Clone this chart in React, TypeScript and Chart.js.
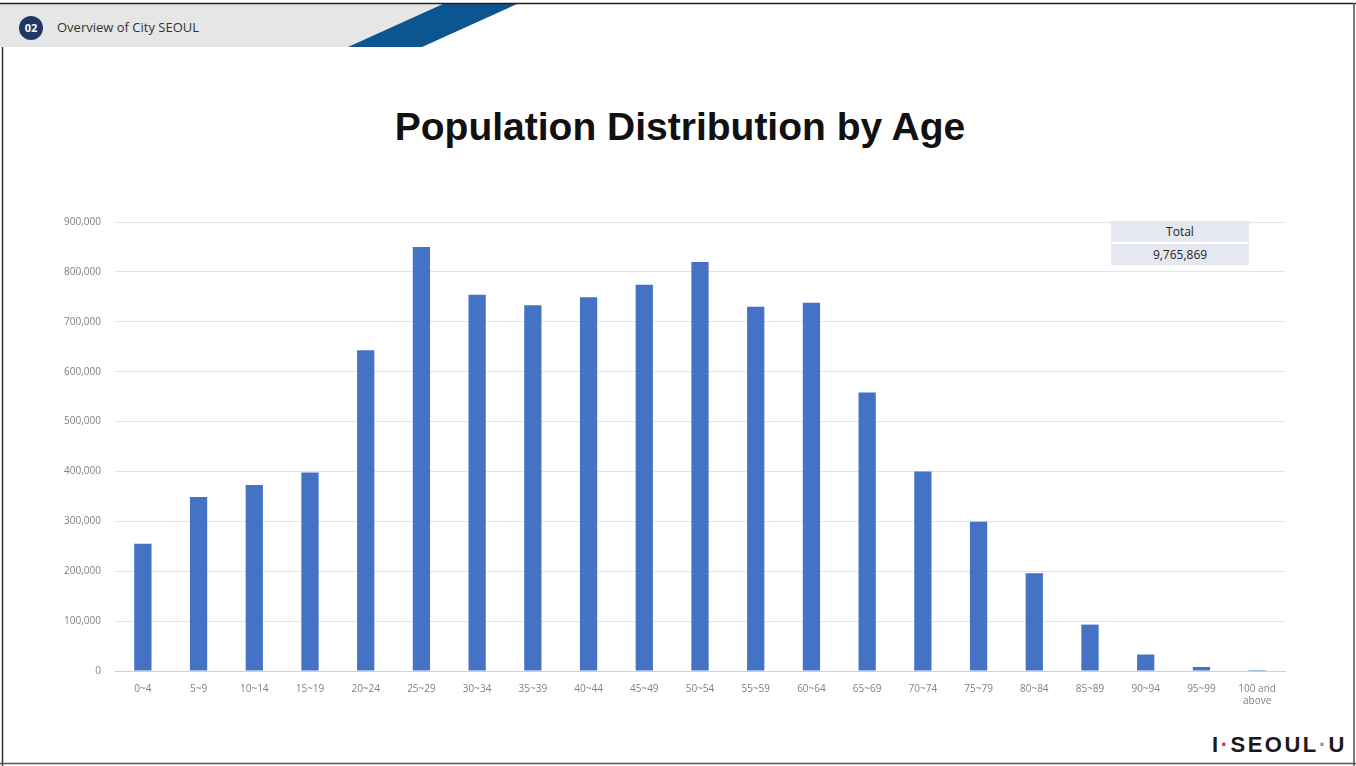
import React, { useEffect, useRef } from "react";
import { Chart, registerables } from "chart.js";

Chart.register(...registerables);

const ageGroups: (string | string[])[] = [
  "0~4", "5~9", "10~14", "15~19", "20~24", "25~29", "30~34", "35~39", "40~44",
  "45~49", "50~54", "55~59", "60~64", "65~69", "70~74", "75~79", "80~84",
  "85~89", "90~94", "95~99", ["100 and", "above"],
];

const population: number[] = [
  255000, 349000, 373000, 398000, 643000, 850000, 754000, 733000, 749000,
  774000, 820000, 730000, 738000, 558000, 400000, 299000, 196000,
  93000, 33000, 8000, 2000,
];

const yMax = 900000;
const yStep = 100000;
const totalLabel = "Total";
const totalValue = "9,765,869";

const tickFont = { family: "'Open Sans', 'DejaVu Sans', sans-serif", size: 10 };

export default function App() {
  const canvasRef = useRef<HTMLCanvasElement | null>(null);

  useEffect(() => {
    if (!canvasRef.current) return;
    const chart = new Chart(canvasRef.current, {
      type: "bar",
      data: {
        labels: ageGroups,
        datasets: [
          {
            data: population,
            backgroundColor: "#4472c4",
            barPercentage: 0.31,
            categoryPercentage: 1,
          },
        ],
      },
      options: {
        animation: false,
        responsive: false,
        maintainAspectRatio: false,
        layout: { padding: { left: 0, right: 15, top: 22, bottom: 0 } },
        plugins: { legend: { display: false }, tooltip: { enabled: false } },
        scales: {
          x: {
            grid: { display: false, drawTicks: false },
            border: { color: "#d0d0d0", width: 1 },
            ticks: {
              color: "#808080",
              font: tickFont,
              padding: 12,
              maxRotation: 0,
              autoSkip: false,
            },
            afterFit: (scale: any) => {
              scale.height = 49;
            },
          },
          y: {
            min: 0,
            max: yMax,
            grid: { color: "#e3e3e3", drawTicks: false },
            border: { display: false },
            ticks: {
              stepSize: yStep,
              color: "#808080",
              font: tickFont,
              padding: 14,
              callback: (v: any) => Number(v).toLocaleString("en-US"),
            },
            afterFit: (scale: any) => {
              scale.width = 115;
            },
          },
        },
      },
    });
    return () => chart.destroy();
  }, []);

  return (
    <div
      style={{
        position: "fixed",
        left: 0,
        top: 0,
        width: 1356,
        height: 766,
        background: "#ffffff",
        overflow: "hidden",
        fontFamily: "'Open Sans', 'DejaVu Sans', sans-serif",
      }}
    >
      <svg width={1356} height={766} style={{ position: "absolute", left: 0, top: 0 }}>
        <polygon points="0,4 450,4 356,47 0,47" fill="#e6e6e6" />
        <polygon points="443,4 517,4 422,47 348,47" fill="#0b5591" />
        <line x1={0} y1={3.5} x2={1356} y2={3.5} stroke="#222" strokeWidth={1.5} />
        <line x1={2.5} y1={47} x2={2.5} y2={766} stroke="#333" strokeWidth={1.5} />
        <line x1={1354} y1={3} x2={1354} y2={766} stroke="#555" strokeWidth={1.5} />
        <line x1={0} y1={763.5} x2={1356} y2={763.5} stroke="#555" strokeWidth={1.5} />
        <circle cx={31} cy={28} r={12} fill="#1f3864" />
      </svg>
      <div
        style={{
          position: "absolute",
          left: 19,
          top: 19,
          width: 24,
          height: 18,
          lineHeight: "18px",
          textAlign: "center",
          color: "#fff",
          fontSize: 11,
          fontWeight: 700,
        }}
      >
        02
      </div>
      <div
        style={{
          position: "absolute",
          left: 57,
          top: 17,
          lineHeight: "20px",
          fontSize: 13,
          color: "#333",
        }}
      >
        Overview of City SEOUL
      </div>
      <div
        style={{
          position: "absolute",
          left: 0,
          top: 104,
          width: 1360,
          textAlign: "center",
          fontFamily: "'Liberation Sans', Arial, sans-serif",
          fontWeight: 700,
          fontSize: 39,
          lineHeight: "46px",
          color: "#111",
        }}
      >
        Population Distribution by Age
      </div>
      <canvas
        ref={canvasRef}
        width={1300}
        height={520}
        style={{ position: "absolute", left: 0, top: 200, width: 1300, height: 520 }}
      />
      <div
        style={{
          position: "absolute",
          left: 1111,
          top: 221,
          width: 138,
          height: 21,
          background: "#e6e8f1",
          textAlign: "center",
          fontSize: 12,
          lineHeight: "21px",
          color: "#222",
        }}
      >
        {totalLabel}
      </div>
      <div
        style={{
          position: "absolute",
          left: 1111,
          top: 244,
          width: 138,
          height: 21,
          background: "#e6e8f1",
          textAlign: "center",
          fontSize: 12,
          lineHeight: "21px",
          color: "#222",
        }}
      >
        {totalValue}
      </div>
      <div
        style={{
          position: "absolute",
          left: 1212,
          top: 730,
          lineHeight: "30px",
          fontFamily: "'Liberation Sans', Arial, sans-serif",
          fontWeight: 700,
          fontSize: 22,
          color: "#1a1a1a",
          letterSpacing: 2.5,
          whiteSpace: "nowrap",
        }}
      >
        I<span style={{ color: "#e0245e" }}>·</span>SEOUL<span style={{ color: "#4fb0c6" }}>·</span>U
      </div>
    </div>
  );
}
